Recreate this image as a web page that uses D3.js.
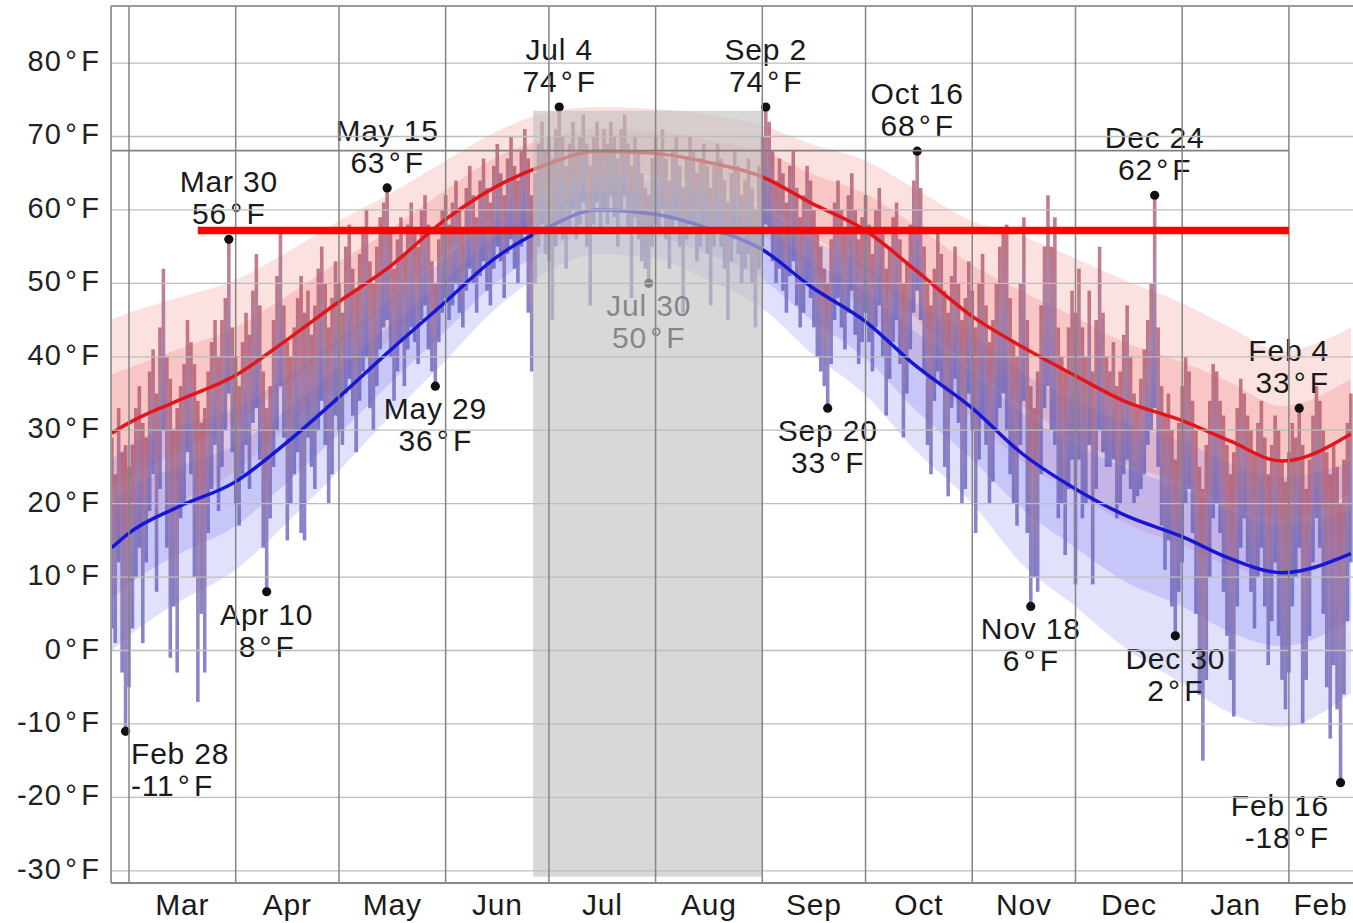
<!DOCTYPE html>
<html><head><meta charset="utf-8">
<script src="https://cdn.jsdelivr.net/npm/d3@7"></script>
<style>
html,body{margin:0;padding:0;background:#fff;overflow:hidden}
svg{display:block;font-family:"Liberation Sans",Arial,Helvetica,sans-serif}
</style></head><body>
<svg id="chart" width="1353" height="923"></svg>
<script>
// ---------- DATA ----------
const startDate = "2013-02-24";   // first day shown
const endDate = "2014-02-19T08:00"; // right edge of plot
// daily highs (°F), Feb 24 .. Feb 19
const highs = [
 29,24,33,27,28,
 25,28,33,36,31,29,38,41,35,44,52,40,37,30,33,36,39,45,42,39,34,31,33,38,42,45,40,45,48,56,44,
 40,36,42,46,43,49,54,47,38,33,36,45,51,57,47,42,40,44,48,51,46,49,43,47,52,55,50,44,48,53,
 50,46,55,58,52,49,54,57,60,53,50,55,59,61,63,57,52,56,59,54,58,61,57,55,60,62,58,53,50,56,60,
 62,58,61,64,60,57,63,66,62,59,64,67,63,61,66,69,65,62,67,70,66,64,68,71,67,62,65,69,72,68,
 70,67,71,74,70,66,69,72,68,70,73,69,66,70,72,68,71,69,72,70,67,71,73,69,66,70,68,65,63,62,67,
 70,68,71,67,64,68,70,66,63,67,70,68,65,67,69,66,63,66,69,67,64,61,65,68,66,62,64,67,63,60,66,
 70,74,72,68,64,67,65,61,66,68,63,59,62,66,64,60,57,55,52,50,56,61,64,60,57,62,65,60,56,59,
 62,58,54,60,63,57,52,55,59,61,56,50,53,58,64,68,63,55,50,47,52,57,54,49,46,51,55,50,45,48,53,
 49,44,50,54,47,42,45,50,55,57,58,48,42,40,50,59,45,36,33,38,47,55,62,55,59,44,40,38,44,49,
 46,52,44,40,49,38,45,55,46,40,38,42,36,38,43,47,40,35,33,37,41,45,50,62,44,36,32,35,30,26,31,
 36,40,38,34,30,25,22,28,34,39,38,34,32,28,24,27,33,37,35,32,30,27,31,34,29,24,28,32,30,26,23,
 27,31,29,33,28,22,26,32,36,34,30,27,24,28,25,20,26,31,35
];
// daily lows (°F)
const lows = [
 3,1,12,-3,-11,
 -5,3,10,14,1,12,19,24,8,22,30,14,-1,6,-3,18,20,27,24,10,-7,5,-3,16,22,28,19,25,30,35,27,
 20,17,24,28,22,31,33,26,14,8,18,25,30,36,29,15,20,24,27,16,15,29,25,22,30,34,28,20,24,32,
 30,28,35,37,32,27,34,38,40,33,30,36,41,44,45,40,34,38,42,36,41,44,42,39,45,47,41,38,36,42,46,
 48,45,47,50,46,44,49,52,50,46,51,53,49,47,52,55,53,48,54,56,52,50,55,57,46,38,50,55,58,54,
 53,45,55,58,56,52,57,60,56,58,61,55,47,58,61,57,60,58,62,59,55,60,62,57,48,59,56,53,52,50,55,
 58,57,60,56,52,57,59,55,46,56,58,57,53,55,58,54,47,55,57,55,52,45,53,56,54,50,52,54,50,44,52,
 55,58,57,53,50,52,49,46,51,53,47,44,46,50,48,44,40,38,36,33,39,45,48,44,41,46,49,43,39,42,
 46,42,38,44,47,40,32,37,42,45,39,29,35,41,46,49,45,38,28,24,34,38,36,25,21,33,37,31,20,22,35,
 30,16,26,32,28,20,23,30,33,35,30,24,20,17,28,34,16,6,10,8,24,33,36,30,28,18,20,13,22,26,
 9,26,18,20,28,9,22,30,27,25,25,26,18,20,24,26,22,20,21,22,24,28,30,33,25,17,11,15,6,2,8,
 12,20,22,16,5,-6,-15,-4,10,18,20,16,8,2,-4,-9,6,14,18,12,8,3,10,14,6,-2,4,12,2,-4,-8,
 -3,6,10,14,-10,-4,2,12,18,14,5,-5,-12,-2,-8,-18,-6,4,12
];
// climatology nodes
const bandDates = ["2013-02-24","2013-03-01","2013-03-15","2013-04-01","2013-04-15","2013-05-01","2013-05-15","2013-06-01","2013-06-15","2013-07-01","2013-07-15","2013-08-01","2013-08-15","2013-09-01","2013-09-15","2013-10-01","2013-10-15","2013-11-01","2013-11-15","2013-12-01","2013-12-15","2014-01-01","2014-01-15","2014-01-30","2014-02-19"];
const avgHigh = [29.6,31,34,37.5,42,47.5,52,58.7,63,66.3,68,67.7,66.6,64.5,61,57.2,52,45.5,41.5,37.4,34,31.3,28.5,25.8,29.5];
const highP90 = [45.1,46,48,50.5,54,58.5,62,66.7,70.5,73.3,74,73.7,73.1,71.5,69,66.7,63,58.5,56.5,53.4,50.5,47.3,44,40.8,44];
const highP75 = [37.6,38.5,41,44,48,53,57,62.7,67,69.8,71,70.7,69.6,68,65,62.2,58,52.5,49,45.4,42,39.3,36.5,33.3,37];
const highP25 = [22.1,23.5,27,31,36,42,47,54.2,59,62.8,65,64.7,63.1,60.5,56.5,51.7,45.5,38.5,33.5,28.9,25.5,22.8,20,17.8,21.5];
const highP10 = [14.6,16,20,24.5,30,36.5,42,49.7,55,59.3,61.5,61.2,59.6,56.5,52,46.2,39.5,31.5,26,21.4,17.5,14.3,11.5,9.8,14];
const avgLow  = [14,16,19.5,23,28,34.5,40.5,47.5,53.3,57.7,60,59.4,57.7,54.6,49.6,44.8,39,33,27,22,18.5,15.5,12.5,10.6,13.2];
const lowP90  = [26,28,30.5,33,37,42.5,47.5,53.5,58.8,62.7,64.5,63.9,62.7,60.1,56.1,52.3,47.5,43,38,34,31,28.5,25.5,23.6,25.7];
const lowP75  = [20,22,25,28,32.5,38.5,44,50.5,56.3,60.2,62.5,61.9,60.2,57.6,53.1,48.8,43.5,38,32.5,28,25,22,19,17.1,19.2];
const lowP25  = [7,9,13,17,22.5,29.5,36,43.5,49.8,54.7,57,56.4,54.2,50.6,45.1,39.8,33,26,19.5,14,9.5,6,2.5,0.6,4.2];
const lowP10  = [0,2,6.5,11,17,24.5,31.5,39.5,46.3,51.7,54,53.4,50.7,46.6,40.6,34.8,27.5,20,12,6,0.5,-4.5,-8.5,-10.4,-5.8];
// axis
const yTicks = [-30,-20,-10,0,10,20,30,40,50,60,70,80];
const monthLabels = ["Mar","Apr","May","Jun","Jul","Aug","Sep","Oct","Nov","Dec","Jan","Feb"];
// annotated extremes
const highNotes = ["2013-03-30","2013-05-15","2013-07-04","2013-09-02","2013-10-16","2013-12-24","2014-02-04"];
const lowNotes  = ["2013-02-28","2013-04-10","2013-05-29","2013-07-30","2013-09-20","2013-11-18","2013-12-30","2014-02-16"];
// shaded period and marker lines
const shadeDates = ["2013-06-26T10:00","2013-09-01T04:00"];
const shadeTemps = [-30.8, 73.5];
const redLineDates = ["2013-03-21","2014-02-01"];
const redLineTemp = 57.2;
const greyLineDates = ["2013-02-24","2014-02-01"];
const greyLineTemp = 68.07;

// ---------- CHART ----------
const P = s => s.length > 10 ? d3.timeParse("%Y-%m-%dT%H:%M")(s) : d3.timeParse("%Y-%m-%d")(s);
const start = P(startDate), end = P(endDate);
const L = 111, T = 6, R = 1353, B = 883;
const x = d3.scaleTime().domain([start, end]).range([111.8, 1352]);
const y = d3.scaleLinear().domain([-31.66, 87.77]).range([B, T]);
const svg = d3.select("#chart");
const defs = svg.append("defs");
defs.append("clipPath").attr("id","clip").append("rect").attr("x",L).attr("y",T).attr("width",R-L).attr("height",B-T);
const g = defs.append("linearGradient").attr("id","barGrad").attr("x1",0).attr("y1",0).attr("x2",0).attr("y2",1);
g.append("stop").attr("offset","0%").attr("stop-color","#b24e5c");
g.append("stop").attr("offset","45%").attr("stop-color","#8c6494");
g.append("stop").attr("offset","100%").attr("stop-color","#5a5abc");

const plot = svg.append("g").attr("clip-path","url(#clip)");
const nodes = bandDates.map((d,i)=>({date:P(d),i}));
const area = (lo,hi)=>d3.area().x(d=>x(d.date)).y0(d=>y(lo[d.i])).y1(d=>y(hi[d.i])).curve(d3.curveMonotoneX);
const line = arr=>d3.line().x(d=>x(d.date)).y(d=>y(arr[d.i])).curve(d3.curveMonotoneX);

plot.append("path").attr("d",area(highP10,highP90)(nodes)).attr("fill","#f06868").attr("fill-opacity",0.2);
plot.append("path").attr("d",area(highP25,highP75)(nodes)).attr("fill","#f06868").attr("fill-opacity",0.22);
plot.append("path").attr("d",area(lowP10,lowP90)(nodes)).attr("fill","#6868f0").attr("fill-opacity",0.2);
plot.append("path").attr("d",area(lowP25,lowP75)(nodes)).attr("fill","#6868f0").attr("fill-opacity",0.22);

const days = highs.map((h,i)=>({date:d3.timeDay.offset(start,i), high:h, low:lows[i]}));
plot.append("g").selectAll("rect").data(days).join("rect")
  .attr("x",d=>x(d.date)-1.8).attr("width",3.6)
  .attr("y",d=>y(d.high)).attr("height",d=>y(d.low)-y(d.high))
  .attr("fill","url(#barGrad)").attr("fill-opacity",0.74);

plot.append("path").attr("d",line(avgHigh)(nodes)).attr("fill","none").attr("stroke","#e3151a").attr("stroke-width",3.5);
plot.append("path").attr("d",line(avgLow)(nodes)).attr("fill","none").attr("stroke","#1616d6").attr("stroke-width",3.5);

// annotations
const notes = highNotes.map(s=>({s,kind:"high"})).concat(lowNotes.map(s=>({s,kind:"low"})));
const fmt = d3.timeFormat("%b %-d");
const ann = plot.append("g");
notes.forEach(n=>{
  const date = P(n.s);
  const idx = d3.timeDay.count(start, date);
  const v = n.kind==="high" ? highs[idx] : lows[idx];
  const cx = x(date), cy = y(v);
  ann.append("circle").attr("cx",cx).attr("cy",cy).attr("r",4.6).attr("fill","#111");
  const lines = [fmt(date), v + "\u200a°\u200aF"];
  const ys = n.kind==="high" ? [cy-47, cy-15] : [cy+33, cy+65];
  lines.forEach((t,k)=>{
    const tx = ann.append("text").text(t).attr("y",ys[k]).attr("text-anchor","middle")
      .attr("font-size",30).attr("letter-spacing","0.8px").attr("fill","#1a1a1a");
    const w = tx.node().getComputedTextLength();
    tx.attr("x", Math.max(131 + w/2, Math.min(1329 - w/2, cx)));
  });
});

// summer shading
plot.append("rect").attr("x",x(P(shadeDates[0]))).attr("width",x(P(shadeDates[1]))-x(P(shadeDates[0])))
  .attr("y",y(shadeTemps[1])).attr("height",y(shadeTemps[0])-y(shadeTemps[1]))
  .attr("fill","#c2c2c2").attr("fill-opacity",0.64);

// gridlines
const grid = svg.append("g");
grid.selectAll("line.h").data(yTicks).join("line").attr("class","h")
  .attr("x1",L).attr("x2",R).attr("y1",d=>y(d)).attr("y2",d=>y(d))
  .attr("stroke","#bdbdbd").attr("stroke-width",1.3);
const months = d3.timeMonth.range(d3.timeMonth.ceil(start), end);
grid.selectAll("line.v").data(months).join("line").attr("class","v")
  .attr("x1",d=>x(d)).attr("x2",d=>x(d)).attr("y1",T).attr("y2",B)
  .attr("stroke","#858585").attr("stroke-width",1.5);

// marker lines
svg.append("line").attr("x1",x(P(greyLineDates[0]))).attr("x2",x(P(greyLineDates[1])))
  .attr("y1",y(greyLineTemp)).attr("y2",y(greyLineTemp)).attr("stroke","#808080").attr("stroke-width",1.6);
svg.append("line").attr("x1",x(P(redLineDates[0]))).attr("x2",x(P(redLineDates[1])))
  .attr("y1",y(redLineTemp)).attr("y2",y(redLineTemp)).attr("stroke","#ff0000").attr("stroke-width",7.5);

// frame
svg.append("line").attr("x1",L).attr("x2",R).attr("y1",T).attr("y2",T).attr("stroke","#9a9a9a").attr("stroke-width",2);
svg.append("line").attr("x1",L).attr("x2",L).attr("y1",T).attr("y2",B).attr("stroke","#9a9a9a").attr("stroke-width",2);
svg.append("line").attr("x1",L).attr("x2",R).attr("y1",B).attr("y2",B).attr("stroke","#8a8a8a").attr("stroke-width",2);

// y labels
svg.append("g").selectAll("text").data(yTicks).join("text")
  .attr("x",100).attr("y",d=>y(d)+8).attr("text-anchor","end")
  .attr("font-size",29).attr("letter-spacing","1px").attr("fill","#222").text(d=>d+"\u200a°\u200aF");

// month labels
svg.append("g").selectAll("text").data(months).join("text")
  .attr("x",d=>{const a=Math.max(x(d),x(start)); const b=Math.min(x(d3.timeMonth.offset(d,1)),x(end)); return (a+b)/2;})
  .attr("y",915).attr("text-anchor","middle").attr("font-size",30).attr("letter-spacing","0.8px")
  .attr("fill","#1a1a1a").text((d,i)=>monthLabels[i]);
</script>
</body></html>
